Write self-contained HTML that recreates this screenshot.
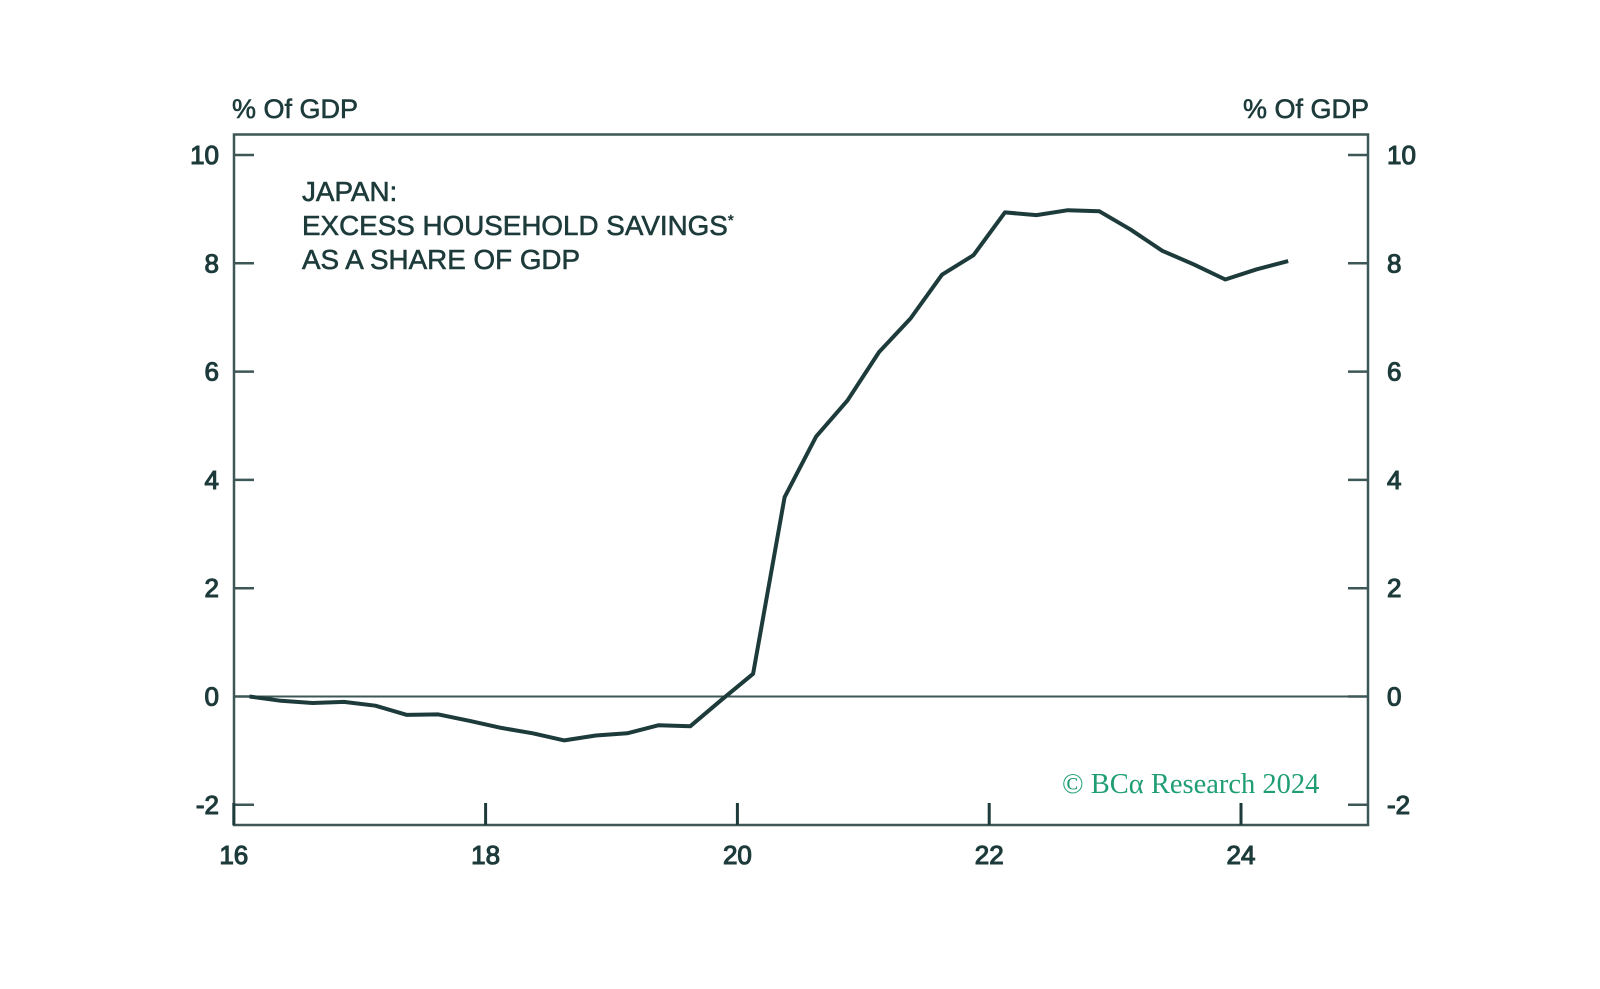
<!DOCTYPE html>
<html><head><meta charset="utf-8"><style>
html,body{margin:0;padding:0;background:#fff;}
svg{display:block;}
text{font-family:"Liberation Sans",sans-serif;fill:#1d3b3a;}
.med{stroke:#1d3b3a;stroke-width:0.6;}
.tk{stroke:#1d3b3a;stroke-width:1.1;}
</style></head><body>
<svg id="chart" width="1600" height="989" viewBox="0 0 1600 989">
<rect x="234" y="134.5" width="1134" height="690.5" fill="none" stroke="#3d5756" stroke-width="2.5"/>
<text class="med" x="232" y="118" font-size="27">% Of GDP</text>
<text class="med" x="1369" y="118" font-size="27" text-anchor="end">% Of GDP</text>
<g>
<text class="med" x="302" y="201" font-size="27.8">JAPAN:</text>
<text class="med" x="302" y="235" font-size="27.8">EXCESS HOUSEHOLD SAVINGS<tspan font-size="15" dy="-10">*</tspan></text>
<text class="med" x="302" y="269" font-size="27.8">AS A SHARE OF GDP</text>
</g>
<text x="1062" y="793" font-size="28.5" style="fill:#1f9e76;font-family:'Liberation Serif',serif">© BCα Research 2024</text>
<g id="axes"></g>
<g id="series"></g>
</svg>
<script>
const years = [16.125,16.375,16.625,16.875,17.125,17.375,17.625,17.875,18.125,18.375,18.625,18.875,19.125,19.375,19.625,19.875,20.125,20.375,20.625,20.875,21.125,21.375,21.625,21.875,22.125,22.375,22.625,22.875,23.125,23.375,23.625,23.875,24.125,24.375];
const savings = [0,-0.08,-0.12,-0.1,-0.17,-0.34,-0.33,-0.45,-0.58,-0.68,-0.81,-0.72,-0.68,-0.53,-0.55,-0.06,0.42,3.68,4.8,5.47,6.36,6.98,7.79,8.15,8.94,8.89,8.98,8.96,8.62,8.23,7.98,7.7,7.89,8.04];
const yTicks = [-2,0,2,4,6,8,10];
const xTicks = [16,18,20,22,24];
const xTickLabels = ["16","18","20","22","24"];

const NS = "http://www.w3.org/2000/svg";
const X = v => 233.8 + (v - 16) * 125.9;
const Y = v => 696.5 - v * 54.15;
const axes = document.getElementById('axes');
function mk(tag, attrs, parent){const e=document.createElementNS(NS,tag);for(const k in attrs)e.setAttribute(k,attrs[k]);parent.appendChild(e);return e;}

yTicks.forEach(t=>{
  const y=Y(t);
  const l=mk('line',{x1:234,x2:254,y1:y,y2:y,stroke:'#3d5756','stroke-width':2.5},axes);
  
  
  const r=mk('line',{x1:1348,x2:1368,y1:y,y2:y,stroke:'#3d5756','stroke-width':2.5},axes);
  
  
  const lt=mk('text',{x:219,y:y+9,'font-size':26,'text-anchor':'end','class':'tk'},axes);
  lt.textContent=String(t);
  
  
  const rt=mk('text',{x:1387,y:y+9,'font-size':26,'class':'tk'},axes);
  rt.textContent=String(t);
  
  
});
const zl=mk('line',{x1:234,x2:1368,y1:Y(0),y2:Y(0),stroke:'#3d5756','stroke-width':2},axes);


xTicks.forEach((t,i)=>{
  const x=X(t);
  const l=mk('line',{x1:x,x2:x,y1:803,y2:825,stroke:'#1d3b3a','stroke-width':3},axes);
  
  
  const tx=mk('text',{x:x,y:864,'font-size':26,'text-anchor':'middle','class':'tk'},axes);
  tx.textContent=xTickLabels[i];
  
  
});
const pts=years.map((yr,i)=>X(yr).toFixed(1)+','+Y(savings[i]).toFixed(1)).join(' ');
const line=mk('polyline',{points:pts,fill:'none',stroke:'#1d3b3a','stroke-width':4,'stroke-linejoin':'round'},document.getElementById('series'));


</script>
</body></html>
